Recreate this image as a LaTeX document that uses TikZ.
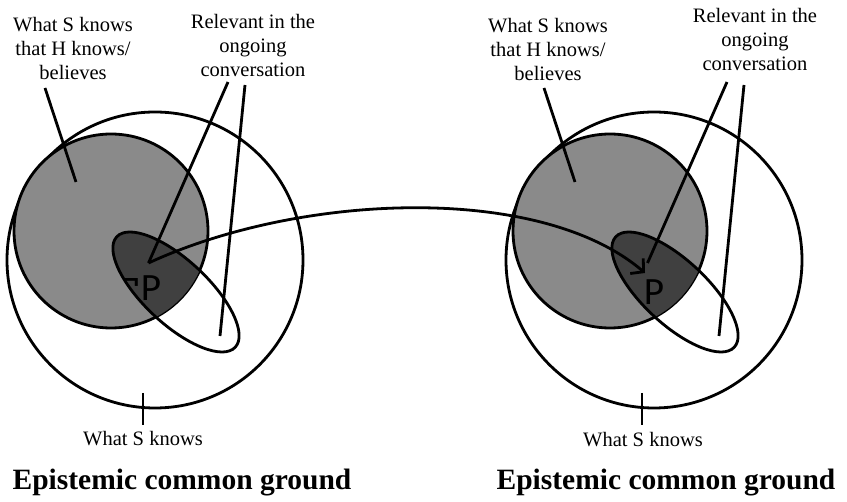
\documentclass[tikz,border=0pt]{standalone}
\usepackage{fontspec}
\setmainfont{Liberation Serif}
\newfontfamily\handfont{Fira Sans}
\usetikzlibrary{arrows.meta}

\definecolor{knowngray}{gray}{0.54}
\definecolor{relevantdark}{gray}{0.25}

\begin{document}
\begin{tikzpicture}[x=1pt, y=1pt, line width=2.8pt,
  lbl/.style={align=center, font=\fontsize{20.5}{24}\selectfont},
  title/.style={font=\bfseries\fontsize{29.5}{34}\selectfont},
  prop/.style={font=\handfont\fontsize{36}{40}\selectfont, inner sep=0pt},
  >={Straight Barb[length=9pt, width=20pt]}]
\useasboundingbox (0,0) rectangle (847,-502);

% the two diagrams, left and right
\foreach \s/\dx in {L/0, R/499} {
  \begin{scope}[xshift=\dx pt]
    \draw (155,-260) circle (148);
    \filldraw[fill=knowngray] (111,-231) circle (97);
    \begin{scope}
      \clip (111,-231) circle (97);
      \fill[relevantdark, rotate around={-43:(176,-292)}] (176,-292) ellipse [x radius=81, y radius=32];
    \end{scope}
    \draw[rotate around={-43:(176,-292)}] (176,-292) ellipse [x radius=81, y radius=32];
    \coordinate (grayTop\s) at (45,-88);
    \coordinate (grayIn\s) at (76,-182);
    \coordinate (relTopA\s) at (228,-82);
    \coordinate (relEnd\s) at (148.5,-263);
    \coordinate (relTopB\s) at (245,-85);
    \coordinate (relIn\s) at (220,-336);
    \coordinate (tickTop\s) at (143,-393);
    \coordinate (tickBot\s) at (143,-425);
  \end{scope}
  \draw (grayTop\s) -- (grayIn\s);
  \draw (relTopA\s) -- (relEnd\s);
  \draw (relTopB\s) -- (relIn\s);
  \draw (tickTop\s) -- (tickBot\s);
}

\coordinate (arrowTip) at (645,-273);
\draw[->] (relEndL) .. controls (300,-193) and (540,-183) .. (arrowTip);

\node[prop] (negP) at (142,-288) {\raisebox{0.25em}{¬}P};
\node[prop] (posP) at (654,-292) {P};

\node[lbl] (knowsHL) at (73,-48) {What S knows\\that H knows/\\believes};
\node[lbl] (relL) at (253,-45) {Relevant in the\\ongoing\\conversation};
\node[lbl] (knowsHR) at (548,-49) {What S knows\\that H knows/\\believes};
\node[lbl] (relR) at (755,-39) {Relevant in the\\ongoing\\conversation};
\node[lbl] (knowsL) at (143,-439) {What S knows};
\node[lbl] (knowsR) at (643,-440) {What S knows};
\node[title] (ecgL) at (182,-483) {Epistemic common ground};
\node[title] (ecgR) at (666,-483) {Epistemic common ground};
\end{tikzpicture}
\end{document}
